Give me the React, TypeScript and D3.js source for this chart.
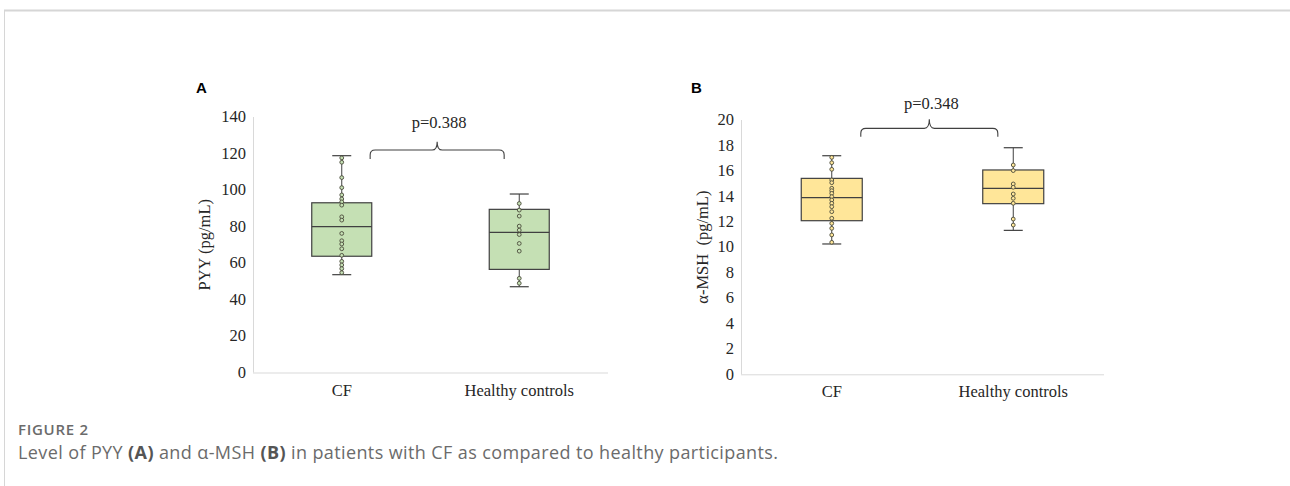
import React from "react";
import * as d3 from "d3";

// groups on the x axis
const groups = ["CF", "Healthy controls"];

// panel A: PYY (pg/mL)
const pyyTicks = [0, 20, 40, 60, 80, 100, 120, 140];
const pyyMin = [53.6, 47.0];
const pyyQ1 = [63.7, 56.5];
const pyyMedian = [79.9, 76.8];
const pyyQ3 = [93.0, 89.4];
const pyyMax = [118.8, 97.8];
const pyyPointsCF = [117.6, 115.2, 106.8, 101.3, 97.3, 95.1, 93.5, 91.7, 85.3, 83.5, 76.2, 72.2, 70.4, 67.8, 64.2, 60.9, 58.9, 56.9, 54.7];
const pyyPointsHC = [92.6, 89.0, 85.7, 80.2, 78.0, 75.6, 70.7, 66.5, 51.6, 48.9];
const pyyP = "p=0.388";
const pyyBrace = [117, 121.9, 126.5, 134]; // end, top, peak, label

// panel B: α-MSH (pg/mL)
const mshTicks = [0, 2, 4, 6, 8, 10, 12, 14, 16, 18, 20];
const mshMin = [10.25, 11.32];
const mshQ1 = [12.08, 13.42];
const mshMedian = [13.89, 14.63];
const mshQ3 = [15.41, 16.07];
const mshMax = [17.19, 17.82];
const mshPointsCF = [17.06, 16.64, 16.12, 15.28, 15.07, 14.63, 14.44, 14.23, 13.97, 13.71, 13.45, 13.18, 12.79, 12.27, 11.87, 11.48, 10.96, 10.38];
const mshPointsHC = [16.46, 16.02, 14.97, 14.71, 14.18, 13.84, 13.45, 12.21, 11.74];
const mshP = "p=0.348";
const mshBrace = [18.68, 19.34, 20.05, 20.86];

const serif = "'Liberation Serif', 'Times New Roman', serif";
const sans = "'Open Sans', 'Noto Sans', sans-serif";

type PanelProps = {
  letter: string;
  x0: number; x1: number; yTopPx: number; y0Px: number;
  ticks: number[];
  mins: number[]; q1s: number[]; medians: number[]; q3s: number[]; maxs: number[];
  points: number[][];
  pLabel: string; brace: number[];
  yTitle: string; yTitleX: number;
  fill: string;
  boxW: number;
  letterX: number;
};

function Panel(p: PanelProps) {
  const x = d3.scaleBand().domain(groups).range([p.x0, p.x1]).padding(0);
  const y = d3.scaleLinear().domain([0, p.ticks[p.ticks.length - 1]]).range([p.y0Px, p.yTopPx]);
  const bw = x.bandwidth();
  const cx = (g: string) => (x(g) as number) + bw / 2;

  const xl = cx(groups[0]) + bw * 0.16;
  const xr = cx(groups[1]) - bw * 0.085;
  const xm = (xl + xr) / 2;
  const [bEnd, bTop, bPeak, bLabel] = p.brace.map(v => y(v));
  const r = 5;
  const path = d3.path();
  path.moveTo(xl, bEnd);
  path.lineTo(xl, bTop + r);
  path.quadraticCurveTo(xl, bTop, xl + r, bTop);
  path.lineTo(xm - r, bTop);
  path.quadraticCurveTo(xm, bTop, xm, bPeak);
  path.quadraticCurveTo(xm, bTop, xm + r, bTop);
  path.lineTo(xr - r, bTop);
  path.quadraticCurveTo(xr, bTop, xr, bTop + r);
  path.lineTo(xr, bEnd);

  const stroke = "#404040";
  const midY = (p.yTopPx + p.y0Px) / 2;

  return (
    <g>
      <text x={p.letterX} y={93} fontFamily="'Liberation Sans', Arial, sans-serif" fontWeight="bold" fontSize={15} fill="#000">{p.letter}</text>
      <line x1={p.x0 + 0.5} x2={p.x0 + 0.5} y1={p.yTopPx} y2={p.y0Px} stroke="#d9d9d9" />
      <line x1={p.x0} x2={p.x1} y1={p.y0Px + 0.5} y2={p.y0Px + 0.5} stroke="#d9d9d9" />
      {p.ticks.map(t => (
        <text key={t} x={p.x0 - 7} y={y(t)} dy="0.32em" textAnchor="end" fontFamily={serif} fontSize={16.5} fill="#262626">{t}</text>
      ))}
      <text transform={`translate(${p.yTitleX},${midY}) rotate(-90)`} dy="0.32em" textAnchor="middle" fontFamily={serif} fontSize={16.5} fill="#262626" style={{ whiteSpace: "pre" }}>{p.yTitle}</text>
      {groups.map(g => (
        <text key={g} x={cx(g)} y={p.y0Px + 23} textAnchor="middle" fontFamily={serif} fontSize={16.5} fill="#262626">{g}</text>
      ))}
      {groups.map((g, i) => {
        const c = cx(g);
        return (
          <g key={g}>
            <line x1={c} x2={c} y1={y(p.maxs[i])} y2={y(p.mins[i])} stroke={stroke} strokeWidth={1} />
            <line x1={c - 9.5} x2={c + 9.5} y1={y(p.maxs[i])} y2={y(p.maxs[i])} stroke={stroke} strokeWidth={1.2} />
            <line x1={c - 9.5} x2={c + 9.5} y1={y(p.mins[i])} y2={y(p.mins[i])} stroke={stroke} strokeWidth={1.2} />
            <rect x={c - p.boxW / 2} y={y(p.q3s[i])} width={p.boxW} height={y(p.q1s[i]) - y(p.q3s[i])} fill={p.fill} stroke={stroke} strokeWidth={1.2} />
            <line x1={c - p.boxW / 2} x2={c + p.boxW / 2} y1={y(p.medians[i])} y2={y(p.medians[i])} stroke={stroke} strokeWidth={1.2} />
            {p.points[i].map((v, j) => (
              <circle key={j} cx={c} cy={y(v)} r={1.9} fill={p.fill} stroke="#4a4a3a" strokeWidth={0.9} />
            ))}
          </g>
        );
      })}
      <path d={path.toString()} fill="none" stroke={stroke} strokeWidth={1.1} />
      <text x={xm + 2} y={bLabel} textAnchor="middle" fontFamily={serif} fontSize={16.5} fill="#262626">{p.pLabel}</text>
    </g>
  );
}

export default function App() {
  return (
    <svg width={1290} height={486} style={{ position: "absolute", left: 0, top: 0, background: "#fff" }}>
      <rect x={0} y={0} width={1290} height={486} fill="#fff" />
      <line x1={4} x2={1290} y1={10.5} y2={10.5} stroke="#d6d6d6" strokeWidth={2} />
      <line x1={4.5} x2={4.5} y1={10} y2={486} stroke="#d6d6d6" strokeWidth={1} />
      <Panel letter="A" letterX={196} x0={253} x1={608} yTopPx={117} y0Px={372.5}
        ticks={pyyTicks} mins={pyyMin} q1s={pyyQ1} medians={pyyMedian} q3s={pyyQ3} maxs={pyyMax}
        points={[pyyPointsCF, pyyPointsHC]} pLabel={pyyP} brace={pyyBrace}
        yTitle="PYY (pg/mL)" yTitleX={205} fill="#c5e0b4" boxW={60} />
      <Panel letter="B" letterX={691} x0={741} x1={1104} yTopPx={120} y0Px={374.3}
        ticks={mshTicks} mins={mshMin} q1s={mshQ1} medians={mshMedian} q3s={mshQ3} maxs={mshMax}
        points={[mshPointsCF, mshPointsHC]} pLabel={mshP} brace={mshBrace}
        yTitle="α-MSH  (pg/mL)" yTitleX={703} fill="#ffe699" boxW={61} />
      <text x={18} y={435} fontFamily={sans} fontSize={15} fontWeight={600} fill="#6b6b6b" textLength={70} lengthAdjust="spacing">FIGURE 2</text>
      <text x={18} y={459} fontFamily={sans} fontSize={18} fill="#6b6b6b" textLength={760} lengthAdjust="spacing">
        Level of PYY <tspan fontWeight="bold" fill="#555">(A)</tspan> and α-MSH <tspan fontWeight="bold" fill="#555">(B)</tspan> in patients with CF as compared to healthy participants.
      </text>
    </svg>
  );
}
